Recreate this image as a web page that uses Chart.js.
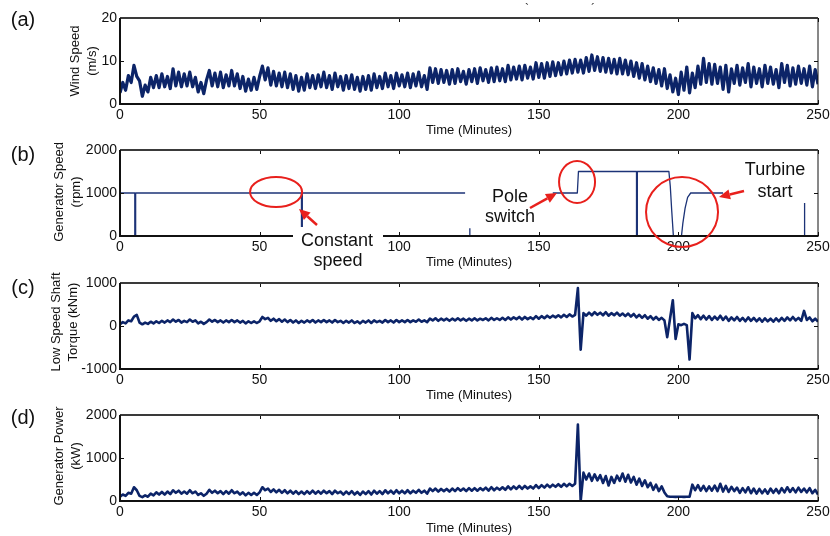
<!DOCTYPE html>
<html>
<head>
<meta charset="utf-8">
<script src="https://cdn.jsdelivr.net/npm/chart.js@4.4.1/dist/chart.umd.min.js"></script>
<style>
  html, body { margin: 0; padding: 0; background: #fff; }
  #wrap { position: relative; width: 830px; height: 536px; overflow: hidden;
          font-family: "Liberation Sans", Arial, sans-serif; color: #111; }
  #wrap canvas { position: absolute; left: 0; }
  .txt { position: absolute; white-space: nowrap; transform: translate(-50%, -50%); z-index: 5; }
  .panel { font-size: 20px; }
  .xt { font-size: 13px; }
  .yt { font-size: 13px; line-height: 16.5px; text-align: center;
        transform: translate(-50%, -50%) rotate(-90deg); }
  .mark { font-size: 12px; color: #333; }
</style>
</head>
<body>
<div id="wrap">
  <canvas id="cWind" width="830" height="135" style="top:0px"></canvas>
  <canvas id="cSpeed" width="830" height="135" style="top:135px"></canvas>
  <canvas id="cTorque" width="830" height="130" style="top:270px"></canvas>
  <canvas id="cPower" width="830" height="136" style="top:400px"></canvas>

  <div class="txt panel" style="left:23px; top:19px">(a)</div>
  <div class="txt panel" style="left:23px; top:154px">(b)</div>
  <div class="txt panel" style="left:23px; top:287px">(c)</div>
  <div class="txt panel" style="left:23px; top:417px">(d)</div>

  <div class="txt yt" style="left:83px; top:60.5px">Wind Speed<br>(m/s)</div>
  <div class="txt yt" style="left:66.5px; top:192px">Generator Speed<br>(rpm)</div>
  <div class="txt yt" style="left:63.5px; top:322px">Low Speed Shaft<br>Torque (kNm)</div>
  <div class="txt yt" style="left:66.5px; top:456px">Generator Power<br>(kW)</div>

  <div class="txt xt" style="left:469px; top:129px">Time (Minutes)</div>
  <div class="txt xt" style="left:469px; top:261px">Time (Minutes)</div>
  <div class="txt xt" style="left:469px; top:394px">Time (Minutes)</div>
  <div class="txt xt" style="left:469px; top:527px">Time (Minutes)</div>

  <div class="txt mark" style="left:527px; top:9px">`</div>
  <div class="txt mark" style="left:593px; top:9px">´</div>
</div>

<script>
// Time axis: one sample per minute over the 250-minute record
const minutes = Array.from({ length: 251 }, (_, i) => i);
const timeTicks = [0, 50, 100, 150, 200, 250];

// (a) wind speed, m/s
const windSpeed = [
  2.6, 5.0, 3.2, 6.6, 5.0, 9.0, 6.4, 5.4, 1.8, 4.4,
  2.8, 6.2, 3.8, 6.6, 3.8, 7.0, 4.0, 6.4, 3.6, 8.2,
  4.2, 7.4, 4.0, 7.0, 4.2, 7.4, 4.0, 6.2, 2.8, 5.0,
  2.4, 5.6, 7.8, 4.2, 7.2, 4.0, 7.4, 3.8, 6.8, 4.2,
  7.8, 4.2, 7.0, 3.6, 6.4, 3.0, 5.8, 3.2, 6.2, 3.4,
  6.4, 8.8, 5.6, 8.4, 4.4, 7.6, 4.2, 7.2, 4.0, 7.4,
  3.8, 7.0, 3.4, 6.6, 3.0, 6.2, 3.2, 7.0, 3.8, 6.6,
  3.6, 6.8, 4.0, 7.4, 3.8, 6.6, 3.4, 7.2, 4.0, 6.4,
  3.2, 6.6, 3.6, 6.8, 3.4, 6.2, 3.0, 6.4, 3.4, 6.6,
  3.2, 7.0, 3.8, 6.4, 3.6, 7.2, 4.0, 6.6, 3.6, 7.2,
  4.2, 6.8, 4.0, 7.2, 3.8, 7.0, 4.2, 7.4, 4.0, 6.6,
  3.4, 8.4, 5.0, 8.2, 4.8, 8.0, 5.0, 7.8, 4.6, 8.0,
  4.8, 8.2, 5.2, 7.6, 4.6, 8.0, 5.2, 8.2, 4.8, 8.4,
  5.4, 8.0, 5.0, 8.4, 5.2, 8.6, 5.4, 8.2, 5.2, 9.0,
  5.6, 8.6, 5.8, 8.8, 5.6, 9.0, 6.0, 8.6, 5.8, 9.6,
  6.2, 9.4, 6.0, 9.6, 6.4, 9.8, 6.6, 9.6, 6.8, 10.0,
  7.0, 10.2, 7.2, 10.4, 7.4, 10.2, 7.2, 10.8, 7.6, 11.4,
  7.8, 11.0, 7.6, 10.8, 7.4, 10.6, 7.2, 10.4, 7.0, 10.6,
  7.0, 10.2, 6.8, 10.0, 6.4, 9.6, 6.0, 9.4, 5.6, 8.8,
  5.2, 8.4, 4.8, 8.0, 4.2, 8.2, 3.6, 6.8, 2.8, 6.0,
  2.2, 7.4, 3.2, 8.6, 2.6, 7.2, 3.8, 8.8, 4.6, 10.6,
  5.0, 9.4, 4.6, 9.2, 4.8, 8.6, 3.4, 9.0, 2.8, 8.2,
  4.8, 9.0, 4.4, 8.4, 5.0, 9.4, 4.0, 8.6, 4.8, 8.2,
  4.0, 9.0, 4.8, 8.6, 4.6, 8.0, 3.8, 9.4, 5.0, 9.0,
  4.2, 8.4, 4.6, 8.8, 4.8, 8.2, 4.4, 8.8, 4.0, 8.0,
  4.6
];

// (b) generator speed, rpm (null marks a break in the logged trace)
const genSpeedTime = [
  0, 5.3, 5.3, 5.6, 5.6, 65, 65, 65.3, 65.3, 123.6, 123.7,
  125.3, 125.3, 125.4,
  155, 163.8, 164.2, 185, 185, 185.3, 185.3, 196.6, 197.1, 197.6, 198.2,
  201.1, 201.6, 202.4, 203.3, 204.4, 216, 216.1,
  245.2, 245.2
];
const genSpeedRpm = [
  1000, 1000, 0, 0, 1000, 1000, 0, 0, 1000, 1000, null,
  0, 180, null,
  1000, 1000, 1500, 1500, 0, 0, 1500, 1500, 1150, 600, 0,
  0, 300, 650, 900, 1000, 1000, null,
  0, 770
];

// (c) low speed shaft torque, kNm
const shaftTorque = [
  40, 90, 60, 130, 110, 220, 260, 80, 40, 80,
  50, 100, 60, 110, 70, 120, 80, 130, 90, 150,
  100, 140, 80, 120, 90, 150, 100, 130, 60, 100,
  50, 90, 150, 100, 140, 90, 130, 80, 130, 90,
  140, 90, 130, 80, 120, 60, 110, 70, 110, 70,
  110, 210, 160, 190, 120, 170, 110, 160, 100, 150,
  90, 140, 80, 130, 70, 120, 80, 130, 90, 140,
  80, 130, 90, 140, 90, 130, 80, 140, 90, 120,
  70, 120, 80, 130, 70, 110, 60, 120, 80, 130,
  70, 130, 90, 120, 80, 140, 90, 130, 80, 140,
  90, 130, 90, 140, 90, 130, 100, 150, 100, 130,
  90, 170, 130, 180, 120, 170, 130, 170, 120, 170,
  130, 180, 130, 170, 120, 170, 130, 180, 130, 170,
  140, 180, 130, 190, 140, 180, 140, 190, 140, 200,
  150, 200, 160, 210, 150, 210, 160, 200, 160, 230,
  170, 230, 180, 240, 190, 240, 200, 250, 200, 260,
  210, 270, 220, 260, 880, -550, 300, 240, 310, 250,
  320, 260, 310, 250, 320, 240, 300, 250, 310, 240,
  290, 230, 290, 220, 280, 200, 260, 190, 250, 170,
  230, 150, 210, 140, 190, 130, -260, 170, 600, -300,
  40, 20, 50, 20, -780, 300, 180, 250, 160, 240,
  150, 230, 140, 220, 150, 240, 140, 220, 120, 200,
  130, 210, 120, 190, 110, 200, 120, 190, 110, 180,
  100, 180, 110, 170, 100, 180, 110, 190, 120, 200,
  130, 210, 130, 190, 120, 350, 140, 200, 110, 170,
  100
];

// (d) generator power, kW
const genPower = [
  100, 150, 120, 190, 170, 320, 250, 120, 90, 130,
  100, 170, 130, 200, 150, 210, 150, 220, 160, 250,
  190, 240, 170, 220, 170, 250, 180, 220, 140, 180,
  120, 170, 260, 190, 240, 180, 230, 160, 230, 170,
  250, 180, 220, 150, 200, 130, 190, 140, 190, 140,
  200, 320, 250, 290, 210, 270, 200, 260, 190, 250,
  180, 240, 170, 230, 160, 220, 160, 230, 170, 240,
  170, 230, 170, 240, 180, 230, 160, 240, 180, 220,
  150, 220, 160, 230, 150, 210, 140, 220, 160, 230,
  150, 240, 170, 230, 160, 250, 180, 240, 170, 250,
  180, 240, 180, 250, 180, 240, 190, 260, 190, 240,
  170, 290, 230, 290, 220, 280, 230, 280, 220, 290,
  230, 300, 240, 290, 230, 300, 240, 300, 240, 300,
  250, 310, 240, 320, 250, 310, 260, 320, 260, 340,
  270, 340, 280, 350, 280, 350, 290, 340, 290, 370,
  300, 370, 310, 380, 320, 380, 330, 390, 330, 400,
  340, 400, 350, 400, 1780, 0, 660, 500, 640, 470,
  620, 480, 600, 420, 580, 360, 560, 420, 590, 470,
  640, 450, 610, 430, 560, 380, 520, 350, 480, 320,
  420, 260, 380, 230, 340, 200, 110, 100, 100, 95,
  100, 100, 95, 100, 100, 380, 250, 370, 240, 350,
  230, 340, 240, 360, 230, 400, 220, 350, 210, 330,
  230, 310, 190, 300, 200, 320, 180, 290, 170, 280,
  180, 270, 170, 290, 190, 280, 180, 300, 200, 320,
  210, 300, 200, 310, 210, 290, 200, 300, 180, 260,
  150
];

const FONT = '"Liberation Sans", Arial, sans-serif';
const NAVY = '#0c2468';
const RED = '#e8201c';

// MATLAB-style box with inward ticks on all four sides
const framePlugin = {
  id: 'frame',
  afterDraw(chart) {
    const { ctx, chartArea: { left, right, top, bottom }, scales: { x, y } } = chart;
    ctx.save();
    ctx.strokeStyle = '#111';
    ctx.lineWidth = 1;
    ctx.beginPath();
    x.ticks.forEach(t => {
      const px = Math.round(x.getPixelForValue(t.value)) + 0.5;
      ctx.moveTo(px, bottom); ctx.lineTo(px, bottom - 4);
      ctx.moveTo(px, top); ctx.lineTo(px, top + 4);
    });
    y.ticks.forEach(t => {
      const py = Math.round(y.getPixelForValue(t.value)) + 0.5;
      ctx.moveTo(left, py); ctx.lineTo(left + 4, py);
      ctx.moveTo(right, py); ctx.lineTo(right - 4, py);
    });
    ctx.stroke();
    ctx.lineWidth = 1;
    ctx.beginPath();
    ctx.moveTo(right, top); ctx.lineTo(right, bottom);
    ctx.stroke();
    ctx.strokeStyle = '#3a3a3a';
    ctx.lineWidth = 2;
    ctx.beginPath();
    ctx.moveTo(left, top); ctx.lineTo(right, top);
    ctx.stroke();
    ctx.strokeStyle = '#111';
    ctx.beginPath();
    ctx.moveTo(left, top); ctx.lineTo(left, bottom); ctx.lineTo(right + 0.5, bottom);
    ctx.stroke();
    ctx.restore();
  }
};

function arrow(ctx, x0, y0, x1, y1) {
  const a = Math.atan2(y1 - y0, x1 - x0);
  const len = 11, half = 5;
  const bx = x1 - len * Math.cos(a), by = y1 - len * Math.sin(a);
  ctx.beginPath();
  ctx.moveTo(x0, y0); ctx.lineTo(bx, by);
  ctx.stroke();
  ctx.beginPath();
  ctx.moveTo(x1, y1);
  ctx.lineTo(bx + half * Math.sin(a), by - half * Math.cos(a));
  ctx.lineTo(bx - half * Math.sin(a), by + half * Math.cos(a));
  ctx.closePath();
  ctx.fill();
}

// Callouts on the generator speed panel
const calloutPlugin = {
  id: 'callouts',
  afterDraw(chart) {
    const { ctx, scales: { x, y } } = chart;
    ctx.save();
    // label plate for "Constant speed" sits over the axis
    ctx.fillStyle = '#fff';
    ctx.fillRect(293, 92, 90, 45);

    ctx.strokeStyle = RED;
    ctx.fillStyle = RED;
    ctx.lineWidth = 2;
    const rings = [
      { t: 55.9, v: 1023, rx: 26, ry: 15 },
      { t: 163.7, v: 1256, rx: 18, ry: 21 },
      { t: 201.3, v: 558, rx: 36, ry: 35 }
    ];
    rings.forEach(r => {
      ctx.beginPath();
      ctx.ellipse(x.getPixelForValue(r.t), y.getPixelForValue(r.v), r.rx, r.ry, 0, 0, Math.PI * 2);
      ctx.stroke();
    });
    ctx.lineWidth = 2.5;
    arrow(ctx, 317, 90, 299, 74);
    arrow(ctx, 530, 73, 557, 58);
    arrow(ctx, 744, 56, 719, 62);

    ctx.fillStyle = '#111';
    ctx.font = '18px ' + FONT;
    ctx.textAlign = 'center';
    ctx.textBaseline = 'middle';
    ctx.fillText('Constant', 337, 106);
    ctx.fillText('speed', 338, 126);
    ctx.fillText('Pole', 510, 62);
    ctx.fillText('switch', 510, 82);
    ctx.fillText('Turbine', 775, 35);
    ctx.fillText('start', 775, 57);
    ctx.restore();
  }
};

function series(xs, ys, width, color) {
  return {
    data: xs.map((t, i) => ({ x: t, y: ys[i] })),
    borderColor: color || NAVY,
    borderWidth: width,
    pointRadius: 0,
    tension: 0,
    fill: false,
    spanGaps: false,
    borderJoinStyle: 'round'
  };
}

function makePanel(id, cfg) {
  return new Chart(document.getElementById(id), {
    type: 'line',
    data: { datasets: cfg.datasets },
    options: {
      responsive: false,
      animation: false,
      devicePixelRatio: 1,
      events: [],
      layout: { padding: { top: cfg.padTop, right: 12, left: 0, bottom: 0 } },
      plugins: { legend: { display: false }, tooltip: { enabled: false } },
      scales: {
        x: {
          type: 'linear', min: 0, max: 250,
          afterBuildTicks: s => { s.ticks = timeTicks.map(v => ({ value: v })); },
          afterFit: s => { s.height = cfg.xHeight; s.paddingLeft = 0; s.paddingRight = 0; },
          grid: { display: false, drawTicks: false },
          border: { display: false },
          ticks: { padding: 3, color: '#111', font: { family: FONT, size: 14 },
                   maxRotation: 0, autoSkip: false, callback: v => String(v) }
        },
        y: {
          min: cfg.yMin, max: cfg.yMax,
          afterBuildTicks: s => { s.ticks = cfg.yTicks.map(v => ({ value: v })); },
          afterFit: s => { s.width = 120; s.paddingTop = 0; s.paddingBottom = 0; },
          grid: { display: false, drawTicks: false },
          border: { display: false },
          ticks: { padding: 3, color: '#111', font: { family: FONT, size: 14 },
                   callback: v => String(v) }
        }
      }
    },
    plugins: [framePlugin].concat(cfg.extra ? [cfg.extra] : [])
  });
}

makePanel('cWind', {
  padTop: 18, xHeight: 31, yMin: 0, yMax: 20, yTicks: [0, 10, 20],
  datasets: [series(minutes, windSpeed, 3.2)]
});
makePanel('cSpeed', {
  padTop: 15, xHeight: 34, yMin: 0, yMax: 2000, yTicks: [0, 1000, 2000],
  datasets: [series(genSpeedTime, genSpeedRpm, 1.3, '#1c3377')],
  extra: calloutPlugin
});
makePanel('cTorque', {
  padTop: 13, xHeight: 31, yMin: -1000, yMax: 1000, yTicks: [-1000, 0, 1000],
  datasets: [series(minutes, shaftTorque, 2.6)]
});
makePanel('cPower', {
  padTop: 15, xHeight: 35, yMin: 0, yMax: 2000, yTicks: [0, 1000, 2000],
  datasets: [series(minutes, genPower, 2.6)]
});
</script>
</body>
</html>
